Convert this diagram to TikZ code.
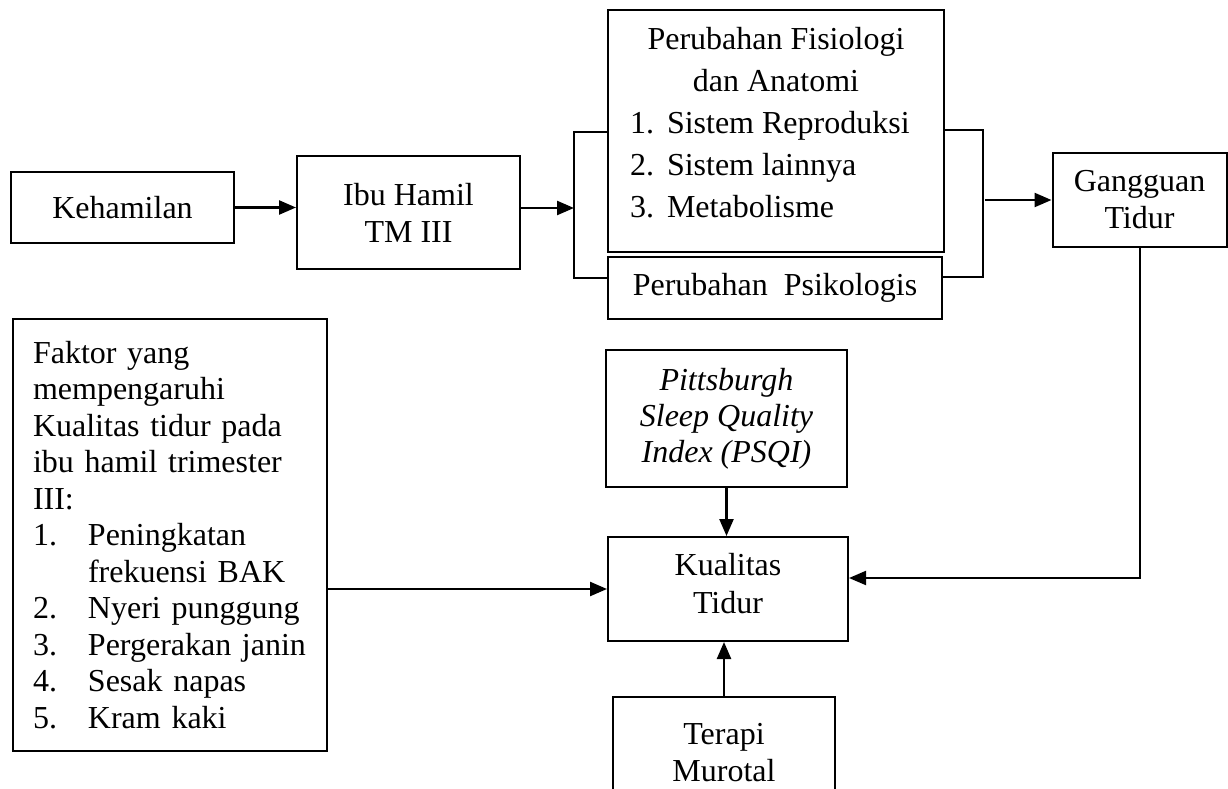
\documentclass[tikz,border=0pt]{standalone}
\usepackage{fontspec}
\setmainfont{Liberation Serif}
\usetikzlibrary{arrows.meta,calc}
\begin{document}
\begin{tikzpicture}[x=1pt,y=-1pt]
\tikzset{
  box/.style={draw, line width=2pt, inner sep=0pt, align=center, font=\fontsize{32}{37}\selectfont},
  arr/.style={line width=2.4pt, -{Triangle[length=17pt,width=14pt]}},
  brk/.style={line width=1.3pt},
}
\useasboundingbox (0,0) rectangle (1228,789);
\fill[white] (0,0) rectangle (1228,789);

\node[box, minimum width=223pt, minimum height=71pt] (keh) at (122.5,207.5) {Kehamilan};
\node[box, minimum width=223pt, minimum height=113pt] (ibu) at (408.5,212.5) {Ibu Hamil\\TM III};
\node[box, minimum width=336pt, minimum height=242pt, font=\fontsize{32}{42}\selectfont] (fis) at (776,131)
  {Perubahan Fisiologi\\dan Anatomi\\
   \makebox[292pt][l]{\makebox[37pt][l]{1.}Sistem Reproduksi}\\
   \makebox[292pt][l]{\makebox[37pt][l]{2.}Sistem lainnya}\\
   \makebox[292pt][l]{\makebox[37pt][l]{3.}Metabolisme}\rule[-18pt]{0pt}{18pt}};
\node[box, minimum width=334pt, minimum height=62pt] (psi) at (775,288) {Perubahan\ \ Psikologis};
\node[box, minimum width=174pt, minimum height=94pt] (gang) at (1139.5,200) {Gangguan\\Tidur};
\node[box, minimum width=241pt, minimum height=137pt, font=\fontsize{32}{36}\selectfont\itshape] (psqi) at (726.5,418.5)
  {Pittsburgh\\Sleep Quality\\Index (PSQI)};
\node[box, minimum width=240pt, minimum height=104pt, font=\fontsize{32}{38}\selectfont] (kual) at (728,589)
  {Kualitas\\Tidur\rule[-12pt]{0pt}{12pt}};
\node[box, minimum width=222pt, minimum height=112pt, font=\fontsize{32}{37}\selectfont] (ter) at (724,753)
  {Terapi\\Murotal};
\node[box, anchor=north west, align=left, text width=274pt, inner xsep=20pt, inner ysep=0pt,
      minimum height=432pt, font=\fontsize{32}{36.5}\selectfont] (lf) at (12,318)
  {\mbox{Faktor yang}\\
   \mbox{mempengaruhi}\\
   \mbox{Kualitas tidur pada}\\
   \mbox{ibu hamil trimester}\\
   \mbox{III:}\\
   \mbox{\makebox[55pt][l]{1.}Peningkatan}\\
   \mbox{\hspace*{55pt}frekuensi BAK}\\
   \mbox{\makebox[55pt][l]{2.}Nyeri punggung}\\
   \mbox{\makebox[55pt][l]{3.}Pergerakan janin}\\
   \mbox{\makebox[55pt][l]{4.}Sesak napas}\\
   \mbox{\makebox[55pt][l]{5.}Kram kaki}};

% arrows top row
\draw[arr] (keh.east) -- (keh.east -| ibu.west);
\coordinate (bl) at (574,208);
\draw[arr] (bl -| ibu.east) -- (bl);

% brackets
\coordinate (blt) at (574,132);
\coordinate (blb) at (574,278);
\draw[brk] (blt -| fis.west) -- (blt) -- (blb) -- (blb -| psi.west);
\coordinate (brt) at (983,130);
\coordinate (brb) at (983,277);
\draw[brk] (brt -| fis.east) -- (brt) -- (brb) -- (brb -| psi.east);
\coordinate (br) at (985,200);
\draw[arr] (br) -- (br -| gang.west);

% lower arrows
\draw[arr, line width=2pt] (gang.south) |- ([yshift=11pt]kual.east);
\draw[arr] (psqi.south) -- (psqi.south |- kual.north);
\draw[arr] (ter.north) -- (ter.north |- kual.south);
\draw[arr] (kual.west -| lf.east) -- (kual.west);
\end{tikzpicture}
\end{document}
